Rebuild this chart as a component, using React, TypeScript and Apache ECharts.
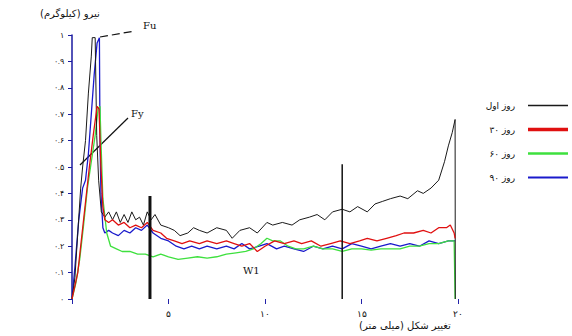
import React, { useEffect, useRef } from "react";
import * as echarts from "echarts";

const seriesNames = ["روز اول", "روز ۳۰", "روز ۶۰", "روز ۹۰"];
const seriesColors = ["#1a1a1a", "#e01010", "#3ee03e", "#1a1acc"];
const legendThickness = [1.5, 3.5, 2.5, 2];

const day1: number[][] = [
  [0, 0], [0.15, 0.08], [0.3, 0.25], [0.45, 0.42], [0.55, 0.5], [0.7, 0.6], [0.85, 0.78], [1.0, 0.92], [1.05, 0.99],
  [1.2, 0.99], [1.28, 0.62], [1.38, 0.45], [1.52, 0.33], [1.7, 0.31], [1.9, 0.33], [2.1, 0.3], [2.3, 0.33],
  [2.5, 0.29], [2.7, 0.32], [2.9, 0.29], [3.1, 0.33], [3.3, 0.3], [3.5, 0.31], [3.7, 0.28], [3.9, 0.33],
  [4.1, 0.3], [4.3, 0.32], [4.6, 0.28], [5.0, 0.27], [5.3, 0.26], [5.6, 0.24], [6.0, 0.25], [6.3, 0.27],
  [6.6, 0.26], [7.0, 0.25], [7.5, 0.27], [8.0, 0.26], [8.3, 0.23], [8.7, 0.26], [9.2, 0.27], [9.6, 0.25],
  [10.1, 0.29], [10.4, 0.28], [10.9, 0.29], [11.4, 0.28], [11.8, 0.3], [12.3, 0.31], [12.7, 0.32], [13.1, 0.3],
  [13.5, 0.33], [14.0, 0.34], [14.4, 0.33], [14.8, 0.35], [15.3, 0.33], [15.7, 0.36], [16.1, 0.37], [16.5, 0.38],
  [17.0, 0.39], [17.4, 0.38], [17.9, 0.41], [18.2, 0.4], [18.6, 0.42], [19.0, 0.45], [19.3, 0.52], [19.5, 0.58],
  [19.7, 0.63], [19.85, 0.68], [19.86, 0]
];

const day30: number[][] = [
  [0, 0], [0.3, 0.1], [0.6, 0.3], [0.9, 0.5], [1.1, 0.62], [1.3, 0.73], [1.4, 0.72], [1.5, 0.5], [1.6, 0.35],
  [1.7, 0.3], [1.9, 0.29], [2.1, 0.3], [2.4, 0.28], [2.7, 0.29], [3.0, 0.27], [3.3, 0.28], [3.6, 0.27],
  [3.9, 0.29], [4.2, 0.26], [4.6, 0.25], [4.9, 0.23], [5.3, 0.22], [5.7, 0.21], [6.1, 0.22], [6.6, 0.21],
  [7.0, 0.22], [7.5, 0.21], [8.0, 0.22], [8.4, 0.21], [8.8, 0.2], [9.2, 0.21], [9.6, 0.18], [10.0, 0.2],
  [10.5, 0.22], [11.0, 0.21], [11.5, 0.22], [11.9, 0.21], [12.4, 0.22], [12.9, 0.2], [13.4, 0.21], [13.9, 0.22],
  [14.4, 0.21], [14.9, 0.22], [15.3, 0.23], [15.8, 0.22], [16.3, 0.23], [16.8, 0.24], [17.2, 0.25], [17.7, 0.25],
  [18.2, 0.26], [18.6, 0.25], [19.0, 0.27], [19.4, 0.27], [19.6, 0.28], [19.8, 0.25], [19.85, 0.23]
];

const day60: number[][] = [
  [0, 0], [0.2, 0.06], [0.4, 0.15], [0.6, 0.28], [0.8, 0.42], [1.0, 0.52], [1.2, 0.62], [1.35, 0.72],
  [1.45, 0.73], [1.5, 0.6], [1.6, 0.38], [1.8, 0.25], [2.0, 0.2], [2.3, 0.19], [2.6, 0.18], [3.0, 0.18],
  [3.4, 0.17], [3.8, 0.17], [4.2, 0.16], [4.6, 0.17], [5.0, 0.16], [5.5, 0.15], [6.0, 0.155], [6.5, 0.16],
  [7.0, 0.155], [7.5, 0.16], [8.0, 0.17], [8.5, 0.175], [9.0, 0.18], [9.4, 0.19], [9.8, 0.21], [10.1, 0.23],
  [10.4, 0.22], [10.8, 0.22], [11.2, 0.2], [11.6, 0.19], [12.0, 0.19], [12.5, 0.2], [13.0, 0.19], [13.5, 0.19],
  [14.0, 0.18], [14.5, 0.19], [15.0, 0.19], [15.5, 0.185], [16.0, 0.19], [16.5, 0.19], [17.0, 0.19], [17.5, 0.2],
  [18.0, 0.2], [18.5, 0.21], [19.0, 0.21], [19.5, 0.22], [19.8, 0.22], [19.85, 0]
];

const day90: number[][] = [
  [0, 0], [0.15, 0.12], [0.35, 0.3], [0.55, 0.42], [0.7, 0.45], [0.85, 0.55], [1.0, 0.7], [1.15, 0.85],
  [1.3, 0.97], [1.42, 0.99], [1.45, 0.6], [1.5, 0.4], [1.6, 0.27], [1.7, 0.25], [1.9, 0.26], [2.1, 0.25],
  [2.4, 0.24], [2.7, 0.26], [3.0, 0.25], [3.3, 0.27], [3.6, 0.26], [3.9, 0.28], [4.2, 0.25], [4.6, 0.23],
  [5.0, 0.22], [5.4, 0.2], [5.8, 0.19], [6.2, 0.2], [6.6, 0.19], [7.0, 0.2], [7.5, 0.19], [8.0, 0.2],
  [8.4, 0.19], [8.8, 0.21], [9.2, 0.19], [9.7, 0.2], [10.1, 0.21], [10.6, 0.19], [11.0, 0.2], [11.5, 0.19],
  [12.0, 0.18], [12.5, 0.2], [13.0, 0.19], [13.5, 0.2], [14.0, 0.19], [14.5, 0.21], [15.0, 0.2], [15.5, 0.19],
  [16.0, 0.2], [16.5, 0.21], [17.0, 0.2], [17.5, 0.21], [18.0, 0.2], [18.5, 0.22], [19.0, 0.21], [19.5, 0.22],
  [19.85, 0.22]
];

const markerX = [4.04, 14.0];
const markerTop = [0.39, 0.51];
const markerWidth = [3, 1.5];

const toFa = (s: string) => s.replace(/[0-9]/g, (d) => "۰۱۲۳۴۵۶۷۸۹"[Number(d)]);

export default function App() {
  const ref = useRef<HTMLDivElement>(null);
  useEffect(() => {
    if (!ref.current) return;
    const chart = echarts.init(ref.current, null, { renderer: "svg" });
    const curves = [day1, day30, day60, day90];
    const series: any[] = curves.map((d, i) => ({
      name: seriesNames[i],
      type: "line",
      data: d,
      symbol: "none",
      lineStyle: { color: seriesColors[i], width: i === 0 ? 1 : 1.3 },
      itemStyle: { color: seriesColors[i] },
      z: i === 0 ? 5 : 4 - i + 2,
    }));
    markerX.forEach((x, i) => {
      series.push({
        type: "line",
        data: [[x, 0], [x, markerTop[i]]],
        symbol: "none",
        lineStyle: { color: "#111", width: markerWidth[i] },
        z: 6,
        silent: true,
      });
    });
    chart.setOption({
      animation: false,
      grid: { left: 72, right: 114, top: 35, bottom: 37, containLabel: false },
      xAxis: {
        type: "value",
        min: 0,
        max: 20,
        interval: 5,
        axisLine: { show: false },
        axisTick: { show: true, length: 5, lineStyle: { color: "#2222aa" } },
        splitLine: { show: false },
        axisLabel: {
          fontSize: 9,
          color: "#111",
          margin: 10,
          formatter: (v: number) => (v === 0 ? "" : toFa(String(v))),
        },
      },
      yAxis: {
        type: "value",
        min: 0,
        max: 1,
        interval: 0.1,
        axisLine: { show: true, lineStyle: { color: "#1a1aa0", width: 1.5 } },
        axisTick: { show: true, length: 4, lineStyle: { color: "#1a1aa0" } },
        splitLine: { show: false },
        axisLabel: {
          fontSize: 8,
          color: "#111",
          margin: 8,
          formatter: (v: number) => toFa(String(Math.round(v * 10) / 10)),
        },
      },
      legend: {
        data: seriesNames.map((n, i) => ({
          name: n,
          icon: `path://M0,0 L40,0 L40,${legendThickness[i]} L0,${legendThickness[i]} Z`,
        })),
        orient: "vertical",
        right: 4,
        top: 101,
        padding: 0,
        align: "right",
        itemWidth: 40,
        itemHeight: 4,
        itemGap: 15,
        textStyle: { fontSize: 9, color: "#111", fontFamily: "DejaVu Sans", padding: [0, 8, 0, 0] },
      },
      graphic: [
        {
          type: "text",
          left: 40,
          top: 8,
          style: { text: "نیرو (کیلوگرم)", fontSize: 10, fill: "#111", fontFamily: "DejaVu Sans" },
        },
        {
          type: "text",
          left: 359,
          top: 320,
          style: { text: "تغییر شکل (میلی متر)", fontSize: 10, fill: "#111", fontFamily: "DejaVu Sans" },
        },
        {
          type: "line",
          shape: { x1: 100, y1: 37, x2: 135, y2: 31 },
          style: { stroke: "#111", lineWidth: 1.2, lineDash: [8, 4] },
        },
        {
          type: "text",
          left: 143,
          top: 20,
          style: { text: "Fu", fontSize: 10, fill: "#111", fontFamily: "DejaVu Serif" },
        },
        {
          type: "line",
          shape: { x1: 80, y1: 165, x2: 128, y2: 118 },
          style: { stroke: "#111", lineWidth: 1.2 },
        },
        {
          type: "text",
          left: 131,
          top: 108,
          style: { text: "Fy", fontSize: 10, fill: "#111", fontFamily: "DejaVu Serif" },
        },
        {
          type: "text",
          left: 243,
          top: 265,
          style: { text: "W1", fontSize: 10, fill: "#111", fontFamily: "DejaVu Serif" },
        },
      ],
      series,
    });
    return () => chart.dispose();
  }, []);
  return (
    <div
      ref={ref}
      style={{ position: "absolute", left: 0, top: 0, width: 572, height: 336 }}
    />
  );
}
